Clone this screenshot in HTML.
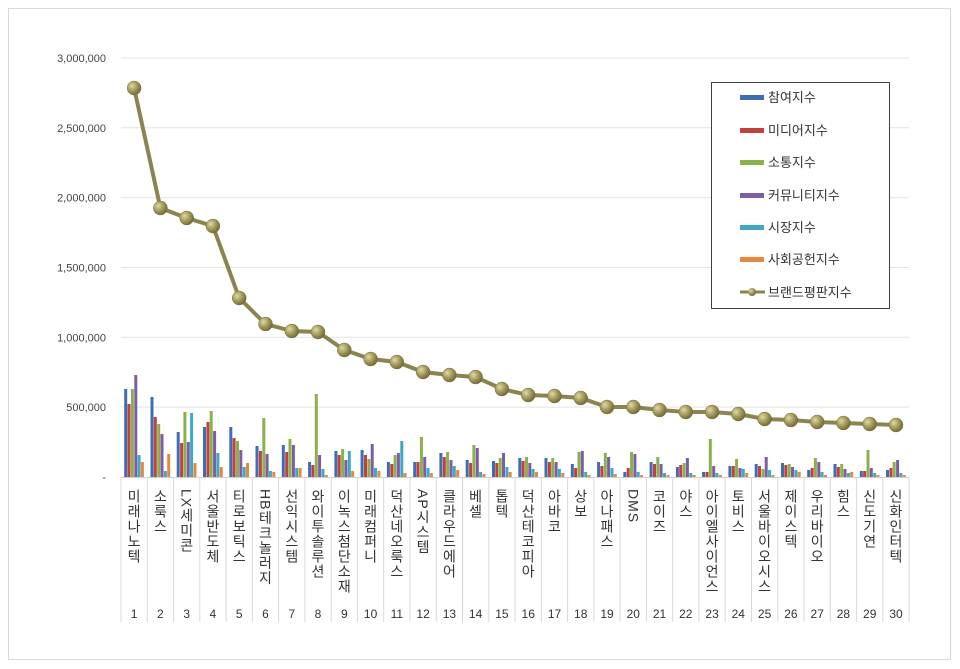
<!DOCTYPE html>
<html><head><meta charset="utf-8"><style>
body{margin:0;background:#fff;}
svg{display:block;font-family:"Liberation Sans","Noto Sans CJK KR",sans-serif;}
</style></head><body>
<svg id="c" width="960" height="669" xmlns="http://www.w3.org/2000/svg">
<defs>
<radialGradient id="mk" cx="35%" cy="35%" r="70%"><stop offset="0" stop-color="#e0d9a8"/><stop offset="0.5" stop-color="#a69c5c"/><stop offset="1" stop-color="#6e6637"/></radialGradient>
</defs>
<rect x="8.5" y="8.5" width="942" height="651" fill="#fff" stroke="#d9d9d9"/>
<g id="g"></g>
<rect x="711.5" y="82.5" width="178" height="226" fill="#fff" stroke="#404040"/>
<g font-size="13" fill="#333">
<rect x="740" y="95" width="24" height="5" fill="#3d6eb5"/><text x="768" y="102">참여지수</text>
<rect x="740" y="128" width="24" height="5" fill="#c0413d"/><text x="768" y="135">미디어지수</text>
<rect x="740" y="160" width="24" height="5" fill="#8db04a"/><text x="768" y="167">소통지수</text>
<rect x="740" y="193" width="24" height="5" fill="#7b5ea7"/><text x="768" y="200">커뮤니티지수</text>
<rect x="740" y="225" width="24" height="5" fill="#3fa8c4"/><text x="768" y="232">시장지수</text>
<rect x="740" y="257" width="24" height="5" fill="#e8883a"/><text x="768" y="264">사회공헌지수</text>
<line x1="740" y1="292" x2="765" y2="292" stroke="#8c8450" stroke-width="3"/><circle cx="752" cy="292" r="4" fill="url(#mk)"/><text x="768" y="297">브랜드평판지수</text>
</g>
</svg>
<script>
var g=document.getElementById('g'),s='';
var names=["미래나노텍","소룩스","LX세미콘","서울반도체","티로보틱스","HB테크놀러지","선익시스템","와이투솔루션","이녹스첨단소재","미래컴퍼니","덕산네오룩스","AP시스템","클라우드에어","베셀","톱텍","덕산테코피아","아바코","상보","아나패스","DMS","코이즈","야스","아이엘사이언스","토비스","서울바이오시스","제이스텍","우리바이오","힘스","신도기연","신화인터텍"];
var line=[88,208,218,226,298,324,331,332,350,359,362,372,375,377,389,395,396,398,407,407,410,412,412,414,419,420,422,423,424,425];
var bars=[[389,404,389,375,455,462],[397,417,424,434,471,454],[432,443,412,442,413,463],[427,422,411,431,453,467],[427,438,441,450,467,463],[446,451,418,454,471,472],[445,452,439,445,468,468],[462,465,394,455,469,475],[451,455,449,460,451,471],[450,455,459,444,468,471],[462,464,455,453,441,473],[462,462,437,457,468,473],[453,457,452,460,466,470],[460,463,445,448,472,474],[461,463,458,453,467,472],[458,461,457,463,469,472],[458,462,458,462,469,473],[464,468,452,451,472,475],[462,466,453,457,468,474],[472,468,452,454,472,475],[462,464,457,464,473,475],[467,465,463,458,473,475],[472,472,439,466,473,475],[466,466,459,468,469,473],[464,466,469,457,470,475],[463,465,464,467,470,472],[470,468,458,462,472,475],[464,467,464,469,473,472],[471,471,450,468,473,475],[470,468,462,460,473,475]];
var cols=["#3d6eb5","#c0413d","#8db04a","#7b5ea7","#3fa8c4","#e8883a"];
var B=477,L=121,W=26.27;
var yl=["3,000,000","2,500,000","2,000,000","1,500,000","1,000,000","500,000","-"];
for(var i=0;i<7;i++){var y=58+i*69.83;
 if(i<6)s+='<line x1="'+L+'" x2="909" y1="'+y.toFixed(1)+'" y2="'+y.toFixed(1)+'" stroke="#e3e3e3"/>';
 s+='<text x="106" y="'+(y+4).toFixed(1)+'" font-size="11" fill="#444" text-anchor="end">'+yl[i]+'</text>';}
s+='<line x1="'+L+'" x2="909" y1="477.5" y2="477.5" stroke="#d0d0d0"/>';
for(var i=0;i<=30;i++){var x=(L+i*W).toFixed(1);s+='<line x1="'+x+'" x2="'+x+'" y1="477" y2="622" stroke="#d9d9d9"/>';}
for(var i=0;i<30;i++){var x0=L+i*W+3.2;
 for(var j=0;j<6;j++){var t=bars[i][j];s+='<rect x="'+(x0+j*3.35).toFixed(1)+'" y="'+t+'" width="3" height="'+(B-t)+'" fill="'+cols[j]+'"/>';}
 var cx=L+i*W+W/2;
 s+='<text x="'+cx.toFixed(1)+'" y="618" font-size="12" fill="#333" text-anchor="middle">'+(i+1)+'</text>';
 s+='<text x="'+cx.toFixed(1)+'" y="489" font-size="14" fill="#333" style="writing-mode:vertical-rl;letter-spacing:1px">'+names[i]+'</text>';}
var p='';for(var i=0;i<30;i++){p+=(i?'L':'M')+(L+i*W+W/2).toFixed(1)+' '+line[i];}
s+='<path d="'+p+'" fill="none" stroke="#8c8450" stroke-width="4"/>';
for(var i=0;i<30;i++)s+='<circle cx="'+(L+i*W+W/2).toFixed(1)+'" cy="'+line[i]+'" r="7" fill="url(#mk)" stroke="#7a7340" stroke-width="0.5"/>';
g.innerHTML=s;
</script>
</body></html>
